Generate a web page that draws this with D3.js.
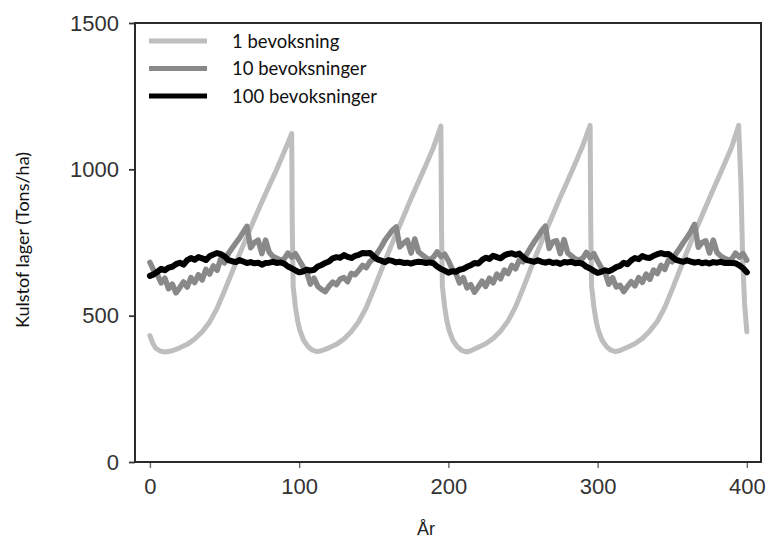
<!DOCTYPE html>
<html>
<head>
<meta charset="utf-8">
<script src="https://cdn.jsdelivr.net/npm/d3@7"></script>
<style>
  body { margin: 0; background: #fff; }
  svg { display: block; }
</style>
</head>
<body>
<svg></svg>
<script>
var width = 776;
var height = 543;

var seriesNames = ["1 bevoksning", "10 bevoksninger", "100 bevoksninger"];
var seriesColors = ["#bebebe", "#898989", "#000000"];
var seriesWidths = [5, 5.5, 6];
var xTicks = [0, 100, 200, 300, 400];
var yTicks = [0, 500, 1000, 1500];

// 1 bevoksning: irregular years, sawtooth with sudden drops
var years1 = [0, 2, 4, 7, 10, 15, 20, 25, 30, 35, 40, 45, 50, 55, 60, 65, 70, 75, 80, 85, 90, 95,
    95.4, 96, 97.5, 99, 100.5, 103, 106, 109,
    112, 115, 120, 125, 130, 135, 140, 145, 150, 155, 160, 165, 170, 175, 180, 185, 190, 195,
    195.4, 196, 197.5, 199, 200.5, 203, 206, 209,
    212, 215, 220, 225, 230, 235, 240, 245, 250, 255, 260, 265, 270, 275, 280, 285, 290, 295,
    295.4, 296, 297.5, 299, 300.5, 303, 306, 309,
    312, 315, 320, 325, 330, 335, 340, 345, 350, 355, 360, 365, 370, 375, 380, 385, 390, 394.5,
    396, 397.2, 398.5, 400];
var values1 = [432, 405, 388, 379, 376, 380, 390, 402, 420, 445, 478, 525, 585, 648, 710, 770, 830, 888, 945, 1000, 1060, 1122,
    800, 600, 530, 482, 450, 416, 394, 382,
    377, 380, 390, 402, 420, 446, 480, 528, 590, 655, 718, 780, 840, 900, 958, 1015, 1075, 1148,
    800, 600, 530, 482, 450, 416, 394, 381,
    376, 380, 392, 404, 422, 448, 482, 530, 592, 658, 722, 785, 845, 905, 962, 1020, 1080, 1150,
    800, 600, 530, 482, 450, 416, 394, 382,
    377, 381, 392, 404, 422, 448, 480, 528, 590, 655, 720, 782, 842, 902, 960, 1018, 1078, 1150,
    960, 700, 540, 445];

// 10 and 100 bevoksninger: one value every 2.5 years, 0..400
var years10 = d3.range(0, 400.01, 2.5);
var values10 = [
    682, 655, 640, 612, 628, 592, 608, 578, 596, 615, 598, 630, 613, 640, 622, 658, 642, 670, 655, 695,
    680, 712, 730, 748, 765, 785, 805, 732, 750, 758, 712, 758, 716, 702, 696, 690, 694, 714, 700, 712,
    690, 668, 650, 608, 628, 600, 590, 582, 600, 615, 606, 625, 630, 616, 645, 640, 655, 672, 664, 685,
    695, 715, 735, 758, 775, 792, 803, 735, 748, 758, 714, 762, 718, 708, 698, 690, 700, 718, 702, 710,
    688, 660, 645, 612, 630, 595, 606, 580, 598, 618, 600, 628, 612, 642, 626, 656, 644, 672, 660, 690,
    684, 710, 732, 752, 770, 790, 806, 730, 752, 756, 712, 760, 714, 704, 694, 690, 696, 716, 698, 712,
    686, 664, 648, 608, 630, 598, 604, 582, 600, 616, 602, 630, 614, 642, 624, 656, 644, 672, 658, 690,
    684, 712, 730, 750, 768, 788, 812, 734, 750, 756, 714, 758, 716, 704, 696, 690, 694, 714, 700, 712,
    690];
var years100 = d3.range(0, 400.01, 2.5);
var values100 = [
    636, 641, 650, 660, 655, 664, 667, 676, 681, 674, 690, 697, 691, 700, 696, 690, 703, 709, 714, 710,
    703, 690, 686, 683, 690, 685, 680, 683, 679, 681, 674, 680, 681, 684, 680, 682, 678, 668, 662, 655,
    648, 651, 657, 654, 657, 668, 673, 680, 685, 696, 700, 698, 707, 701, 697, 704, 708, 714, 713, 714,
    702, 692, 688, 683, 690, 687, 682, 684, 680, 681, 678, 682, 684, 683, 680, 682, 679, 668, 660, 654,
    647, 652, 650, 657, 660, 667, 672, 680, 678, 690, 698, 694, 705, 700, 696, 706, 711, 713, 708, 712,
    700, 690, 687, 684, 689, 684, 681, 685, 680, 682, 677, 683, 682, 684, 679, 681, 677, 667, 661, 653,
    646, 650, 655, 652, 658, 666, 670, 681, 676, 689, 697, 693, 704, 699, 697, 705, 710, 714, 710, 711,
    701, 691, 687, 684, 689, 685, 681, 684, 679, 682, 678, 683, 681, 684, 680, 681, 680, 679, 672, 662,
    648];

var margin = { top: 23, right: 15, bottom: 81, left: 135 };

const svg = d3.select('svg')
    .attr('width', width)
    .attr('height', height);

const x = d3.scaleLinear()
    .domain([-10, 409.5])
    .range([margin.left, width - margin.right]);
const y = d3.scaleLinear()
    .domain([0, 1500])
    .range([height - margin.bottom, margin.top]);

// axes (ticks + labels only, the box is drawn below)
svg.append("g")
    .attr("transform", `translate(${margin.left},0)`)
    .call(d3.axisLeft(y).tickValues(yTicks).tickSize(6).tickPadding(10).tickFormat(d3.format("d")))
    .call(g => g.select(".domain").remove())
    .call(g => g.selectAll("line").attr("stroke", "#333").attr("stroke-width", 1.8))
    .call(g => g.selectAll("text").attr("fill", "#333")
        .style("font-family", "'Liberation Sans', Arial, sans-serif").style("font-size", "22px"));

svg.append("g")
    .attr("transform", `translate(0,${height - margin.bottom})`)
    .call(d3.axisBottom(x).tickValues(xTicks).tickSize(6).tickPadding(10).tickFormat(d3.format("d")))
    .call(g => g.select(".domain").remove())
    .call(g => g.selectAll("line").attr("stroke", "#666").attr("stroke-width", 1.4))
    .call(g => g.selectAll("text").attr("fill", "#333")
        .style("font-family", "'Liberation Sans', Arial, sans-serif").style("font-size", "22px"));

// lines
var line = d3.line()
    .x(d => x(d[0]))
    .y(d => y(d[1]));

var series = [
    d3.zip(years1, values1),
    d3.zip(years10, values10),
    d3.zip(years100, values100)
];

svg.append("g")
    .selectAll("path")
    .data(series)
    .join("path")
    .attr("d", line)
    .attr("fill", "none")
    .attr("stroke", (d, i) => seriesColors[i])
    .attr("stroke-width", (d, i) => seriesWidths[i])
    .attr("stroke-linejoin", "round")
    .attr("stroke-linecap", "round");

// frame
svg.append("rect")
    .attr("x", margin.left)
    .attr("y", margin.top)
    .attr("width", width - margin.left - margin.right)
    .attr("height", height - margin.top - margin.bottom)
    .attr("fill", "none")
    .attr("stroke", "#2a2a2a")
    .attr("stroke-width", 2);

// legend
const legend = svg.append("g")
    .selectAll("g")
    .data(seriesNames)
    .join("g")
    .attr("transform", (d, i) => `translate(149,${41 + i * 27.5})`);
legend.append("line")
    .attr("x1", 0)
    .attr("x2", 58)
    .attr("stroke", (d, i) => seriesColors[i])
    .attr("stroke-width", 5);
legend.append("text")
    .attr("x", 83)
    .attr("y", 2)
    .attr("dominant-baseline", "middle")
    .style("font-family", "Lato, 'Open Sans', sans-serif")
    .style("font-size", "18.5px")
    .attr("fill", "#111")
    .text(d => d);

// axis titles
svg.append("text")
    .attr("x", 426)
    .attr("y", 535)
    .attr("text-anchor", "middle")
    .style("font-family", "'Liberation Sans', Arial, sans-serif")
    .style("font-size", "18px")
    .attr("fill", "#222")
    .text("År");

svg.append("text")
    .attr("transform", "translate(29,240) rotate(-90)")
    .attr("text-anchor", "middle")
    .style("font-family", "Lato, 'Open Sans', sans-serif")
    .style("font-size", "18px")
    .attr("fill", "#111")
    .text("Kulstof lager (Tons/ha)");
</script>
</body>
</html>
